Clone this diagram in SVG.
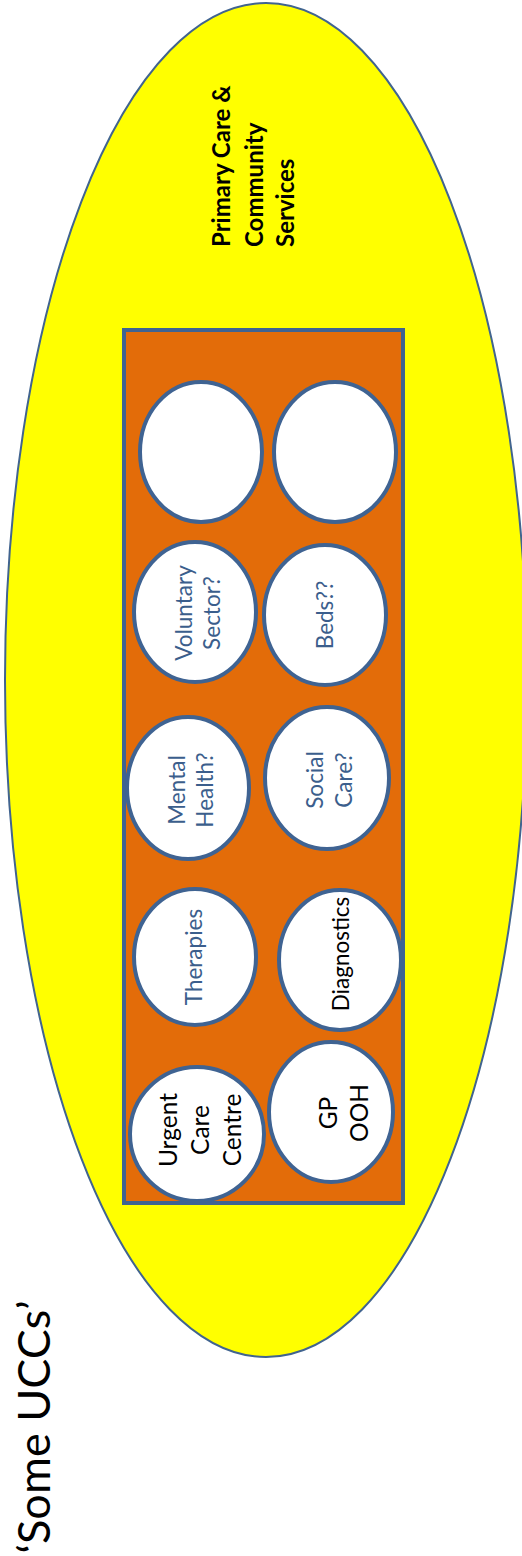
<svg xmlns="http://www.w3.org/2000/svg" width="522" height="1556" viewBox="0 0 522 1556">
<style>
.bg{fill:#FFFF00;stroke:#41648F;stroke-width:2}
.box{fill:#E36C09;stroke:#3F6392;stroke-width:4}
.c{fill:#FFFFFF;stroke:#3F6392;stroke-width:4}
.t{font-family:Lato,"Liberation Sans",sans-serif;font-size:22.5px;text-anchor:middle}
.blue{fill:#3B5E8C}
.blk{fill:#000000}
.big{font-size:24.5px}
</style>
<rect width="522" height="1556" fill="#FFFFFF"/>
<g id="primary-care">
<ellipse class="bg" cx="266" cy="680" rx="261" ry="677"/>
<text transform="rotate(-90)" font-family="Lato,'Liberation Sans',sans-serif" font-weight="bold" font-size="24px" fill="#000"><tspan x="-247" y="230">Primary Care &amp;</tspan><tspan x="-247" y="263">Community</tspan><tspan x="-247" y="294">Services</tspan></text>
</g>
<g id="ucc-box">
<rect class="box" x="124" y="330" width="279" height="873"/>
</g>
<g id="empty-1"><ellipse class="c" cx="201" cy="452" rx="61" ry="70"/></g>
<g id="empty-2"><ellipse class="c" cx="335" cy="452" rx="61" ry="70"/></g>
<g id="voluntary"><ellipse class="c" cx="195" cy="612" rx="61" ry="70"/>
<text class="t blue" transform="rotate(-90)"><tspan x="-613" y="192">Voluntary</tspan><tspan x="-613" y="220">Sector?</tspan></text></g>
<g id="beds"><ellipse class="c" cx="325" cy="615" rx="61" ry="70"/>
<text class="t blue" transform="rotate(-90)" x="-615" y="333">Beds??</text></g>
<g id="mental-health"><ellipse class="c" cx="188" cy="788" rx="61" ry="71"/>
<text class="t blue" transform="rotate(-90)"><tspan x="-790" y="185">Mental</tspan><tspan x="-790" y="213">Health?</tspan></text></g>
<g id="social-care"><ellipse class="c" cx="327" cy="778" rx="62" ry="71"/>
<text class="t blue" transform="rotate(-90)"><tspan x="-780" y="323">Social</tspan><tspan x="-780" y="352">Care?</tspan></text></g>
<g id="therapies"><ellipse class="c" cx="195" cy="957" rx="61" ry="68"/>
<text class="t blue" transform="rotate(-90)" x="-957" y="202">Therapies</text></g>
<g id="diagnostics"><ellipse class="c" cx="340" cy="960" rx="61" ry="70"/>
<text class="t blk" transform="rotate(-90)" x="-954" y="349">Diagnostics</text></g>
<g id="urgent-care"><ellipse class="c" cx="197" cy="1134" rx="67" ry="67"/>
<text class="t blk big" transform="rotate(-90)"><tspan x="-1130" y="177">Urgent</tspan><tspan x="-1130" y="209">Care</tspan><tspan x="-1130" y="241">Centre</tspan></text></g>
<g id="gp-ooh"><ellipse class="c" cx="331" cy="1112" rx="62" ry="70"/>
<text class="t blk big" transform="rotate(-90)"><tspan x="-1113" y="337">GP</tspan><tspan x="-1113" y="368">OOH</tspan></text></g>
<g id="connectors"></g>
<text transform="rotate(-90)" x="-1427" y="50" font-family="Lato,'Liberation Sans',sans-serif" font-size="45px" text-anchor="middle" fill="#000">‘Some UCCs’</text>
</svg>
